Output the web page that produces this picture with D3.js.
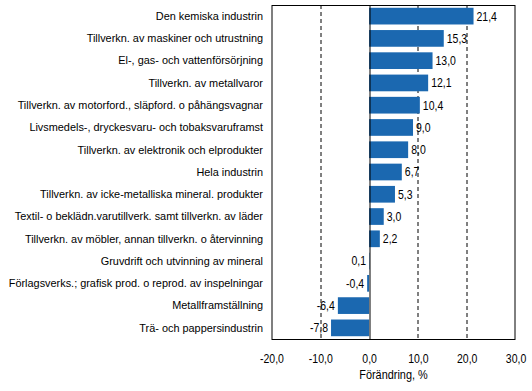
<!DOCTYPE html>
<html>
<head>
<meta charset="utf-8">
<script src="https://cdn.jsdelivr.net/npm/d3@7"></script>
<style>
body { margin: 0; background: #fff; }
</style>
</head>
<body>
<div id="my_dataviz"></div>
<script>
var categories = [
    "Den kemiska industrin",
    "Tillverkn. av maskiner och utrustning",
    "El-, gas- och vattenförsörjning",
    "Tillverkn. av metallvaror",
    "Tillverkn. av motorford., släpford. o påhängsvagnar",
    "Livsmedels-, dryckesvaru- och tobaksvaruframst",
    "Tillverkn. av elektronik och elprodukter",
    "Hela industrin",
    "Tillverkn. av icke-metalliska mineral. produkter",
    "Textil- o beklädn.varutillverk. samt tillverkn. av läder",
    "Tillverkn. av möbler, annan tillverkn. o återvinning",
    "Gruvdrift och utvinning av mineral",
    "Förlagsverks.; grafisk prod. o reprod. av inspelningar",
    "Metallframställning",
    "Trä- och pappersindustrin"
];
var values = [21.4, 15.3, 13.0, 12.1, 10.4, 9.0, 8.0, 6.7, 5.3, 3.0, 2.2, 0.1, -0.4, -6.4, -7.8];
var xTicks = [-20, -10, 0, 10, 20, 30];

var data = categories.map(function(c, i) { return {cat: c, v: values[i]}; });

var margin = {top: 5, right: 16.5, bottom: 52, left: 271.5},
    width = 532 - margin.left - margin.right,
    height = 391 - margin.top - margin.bottom;

var fmt = function(v) { return v.toFixed(1).replace(".", ","); };
var font = "'Liberation Sans', Arial, sans-serif";
var squeeze = 0.84; // narrow look for numbers and axis title

var svg = d3.select("#my_dataviz")
    .append("svg")
        .attr("width", 532)
        .attr("height", 391)
    .append("g")
        .attr("transform", "translate(" + margin.left + "," + margin.top + ")");

var xScale = d3.scaleLinear()
    .domain([-20, 30])
    .range([0, width]);

var yScale = d3.scaleBand()
    .domain(categories)
    .range([0, height])
    .paddingInner(0.25)
    .paddingOuter(0.125);

// dashed grid lines
svg.selectAll("line.grid")
    .data(xTicks.filter(function(t) { return t !== 0 && t !== -20 && t !== 30; }))
    .enter()
        .append("line")
            .attr("class", "grid")
            .attr("x1", function(d) { return Math.round(xScale(d)) + 0.5; })
            .attr("x2", function(d) { return Math.round(xScale(d)) + 0.5; })
            .attr("y1", 0)
            .attr("y2", height)
            .attr("stroke", "#000")
            .attr("stroke-dasharray", "4,3")

// bars
svg.selectAll("rect.bar")
    .data(data)
    .enter()
        .append("rect")
            .attr("class", "bar")
            .attr("x", function(d) { return xScale(Math.min(0, d.v)); })
            .attr("y", function(d) { return yScale(d.cat); })
            .attr("width", function(d) { return Math.abs(xScale(d.v) - xScale(0)); })
            .attr("height", yScale.bandwidth())
            .attr("fill", "#1b68b0")

// zero line
svg.append("line")
    .attr("x1", Math.round(xScale(0)) + 0.5)
    .attr("x2", Math.round(xScale(0)) + 0.5)
    .attr("y1", 0)
    .attr("y2", height)
    .attr("stroke", "#000")

// frame
svg.append("rect")
    .attr("x", 0.5)
    .attr("y", 0.5)
    .attr("width", width - 1)
    .attr("height", height)
    .attr("fill", "none")
    .attr("stroke", "#000")

// value labels
svg.selectAll("text.val")
    .data(data)
    .enter()
        .append("text")
            .attr("class", "val")
            .attr("transform", function(d) {
                var x = d.v >= 1 ? xScale(d.v) + 3 : xScale(Math.min(0, d.v)) - 3;
                var y = yScale(d.cat) + yScale.bandwidth() / 2;
                return "translate(" + x + "," + y + ") scale(" + squeeze + ",1)";
            })
            .attr("dy", "0.35em")
            .attr("text-anchor", function(d) { return d.v >= 1 ? "start" : "end"; })
            .style("font-family", font)
            .style("font-size", "12.5px")
            .text(function(d) { return fmt(d.v); })

// category labels
svg.selectAll("text.cat")
    .data(data)
    .enter()
        .append("text")
            .attr("class", "cat")
            .attr("x", -8.5)
            .attr("y", function(d) { return yScale(d.cat) + yScale.bandwidth() / 2; })
            .attr("dy", "0.35em")
            .attr("text-anchor", "end")
            .style("font-family", font)
            .style("font-size", "10.9px")
            .text(function(d) { return d.cat; })

// x axis
var xAxis = svg.append("g")
    .attr("transform", "translate(0," + height + ")")
    .call(d3.axisBottom(xScale).tickValues(xTicks).tickSize(0).tickPadding(0).tickFormat(fmt));
xAxis.select(".domain").remove();
xAxis.selectAll("text")
    .attr("y", 0)
    .attr("dy", 0)
    .attr("transform", "translate(0,24) scale(" + squeeze + ",1)")
    .style("font-family", font)
    .style("font-size", "12.5px")
    .attr("fill", "#000");

// axis title
svg.append("text")
    .attr("transform", "translate(" + (width / 2) + "," + (height + 40) + ") scale(" + squeeze + ",1)")
    .attr("text-anchor", "middle")
    .style("font-family", font)
    .style("font-size", "13px")
    .text("Förändring, %")
</script>
</body>
</html>
